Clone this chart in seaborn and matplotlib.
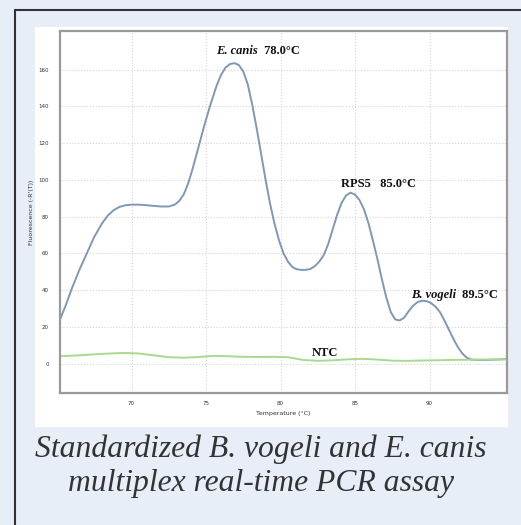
import numpy as np
import pandas as pd
import matplotlib
matplotlib.use('Agg')
import matplotlib.pyplot as plt
import seaborn as sns
from matplotlib.patches import Rectangle
from matplotlib.lines import Line2D

# melt curve
temp = [65.2, 65.6, 66.0, 66.5, 67.0, 67.5, 68.0, 68.4, 68.8, 69.2, 69.6, 70.0, 70.5, 71.0, 71.5,
        72.0, 72.5, 72.9, 73.2, 73.5, 73.8, 74.1, 74.5, 74.9, 75.3, 75.7, 76.0, 76.3, 76.6, 76.9,
        77.2, 77.5, 77.8, 78.1, 78.4, 78.7, 79.0, 79.3, 79.6, 79.9, 80.2, 80.5, 80.8, 81.1, 81.4,
        81.7, 82.0, 82.3, 82.6, 82.9, 83.2, 83.5, 83.8, 84.1, 84.4, 84.7, 85.0, 85.3, 85.6, 85.9,
        86.2, 86.5, 86.8, 87.1, 87.4, 87.7, 88.0, 88.3, 88.6, 88.9, 89.2, 89.5, 89.8, 90.1, 90.4,
        90.7, 91.0, 91.3, 91.6, 91.9, 92.2, 92.5, 92.8, 93.2, 93.8, 94.5, 95.2]
fluor = [24, 32, 41, 51, 60, 69, 76, 80.5, 83.5, 85.3, 86.2, 86.5, 86.5, 86.2, 85.8,
         85.5, 85.5, 86.5, 88.5, 92, 98, 106, 118, 130, 141, 151, 157, 161, 163, 163.5,
         162.5, 159, 152, 141, 128, 114, 100, 87, 76, 67, 60, 55.5, 52.5, 51.3, 51,
         51, 51.5, 53, 55.5, 59, 65, 73, 81, 87.5, 91.5, 93, 92, 89, 84, 76.5,
         67, 57, 46, 36, 28, 24, 23.5, 25, 28.5, 31.5, 33.5, 34.2, 34, 33, 31,
         28, 23.5, 18.5, 13.5, 9, 5.5, 3.2, 2.2, 2, 2, 2.2, 2.5]

ntc_temp = [65.2, 66.5, 68.0, 69.5, 70.5, 71.5, 72.5, 73.5, 74.5, 75.5, 76.5, 77.5, 78.5, 79.5,
            80.5, 81.5, 82.5, 83.5, 84.5, 85.5, 86.5, 87.5, 88.5, 89.5, 90.5, 91.5, 92.5, 93.5, 95.2]
ntc_fluor = [4, 4.5, 5.3, 5.8, 5.5, 4.5, 3.5, 3.2, 3.6, 4.2, 4, 3.7, 3.6, 3.7,
             3.5, 2, 1.5, 1.8, 2.3, 2.6, 2.2, 1.6, 1.5, 1.7, 1.8, 2, 2.1, 2.2, 2.3]

peak_labels = ['E. canis', 'RPS5', 'B. vogeli', 'NTC']
peak_temps = ['78.0°C', '85.0°C', '89.5°C', '']
label_x = [78.5, 86.6, 91.8, 83.0]
label_y = [170, 98, 37.5, 5.8]

x_ticks = [70, 75, 80, 85, 90]
y_ticks = [0, 20, 40, 60, 80, 100, 120, 140, 160]

df = pd.DataFrame({'temp': temp, 'fluor': fluor})
df_ntc = pd.DataFrame({'temp': ntc_temp, 'fluor': ntc_fluor})

sns.set_style('white')
W, H = 521, 525
fig = plt.figure(figsize=(W / 100, H / 100), dpi=100, facecolor='#e8eef8')

# white panel behind the plot
fig.patches.append(Rectangle((35 / W, 1 - 427 / H), (508 - 35) / W, (427 - 27) / H,
                             transform=fig.transFigure, facecolor='white', edgecolor='none', zorder=-5))
# outer frame (left and top only)
fig.lines.append(Line2D([15 / W, 15 / W], [0, 1 - 10 / H], transform=fig.transFigure, color='#333333', lw=1.5))
fig.lines.append(Line2D([15 / W, 1], [1 - 10 / H, 1 - 10 / H], transform=fig.transFigure, color='#333333', lw=1.5))

ax = fig.add_axes([60 / W, 1 - 393 / H, (507 - 60) / W, (393 - 31) / H])
ax.set_zorder(2)
ax.set_facecolor('white')
sns.lineplot(data=df, x='temp', y='fluor', ax=ax, color='#7f98b8', lw=1.4, sort=False)
sns.lineplot(data=df_ntc, x='temp', y='fluor', ax=ax, color='#a9d98e', lw=1.4, sort=False)

ax.set_xlim(65.2, 95.2)
ax.set_ylim(-16, 181)
ax.set_xticks(x_ticks)
ax.set_yticks(y_ticks)
ax.tick_params(axis='x', length=0, labelsize=4, labelcolor='#333333', pad=6)
ax.tick_params(axis='y', length=0, labelsize=4, labelcolor='#333333', pad=8)
ax.grid(True, color='#d4d4d4', ls=':', lw=0.8)
for s in ax.spines.values():
    s.set_color('#9a9a9a')
    s.set_linewidth(1.6)
ax.set_xlabel('Temperature (°C)', fontsize=4.5, color='#333333', labelpad=3)
ax.set_ylabel("Fluorescence (-R'(T))", fontsize=4.5, color='#333333', labelpad=3)

serif = ['Liberation Serif', 'DejaVu Serif']
for name, t, x, y in zip(peak_labels, peak_temps, label_x, label_y):
    if name in ('E. canis', 'B. vogeli'):
        ax.text(x, y, name, ha='right', va='center', fontsize=9, fontweight='bold', fontstyle='italic',
                family=serif, color='#111111')
        ax.text(x + 0.2, y, ' ' + t, ha='left', va='center', fontsize=9, fontweight='bold',
                family=serif, color='#111111')
    elif name == 'RPS5':
        ax.text(x, y, name + '   ' + t, ha='center', va='center', fontsize=9, fontweight='bold',
                family=serif, color='#111111')
    else:
        ax.text(x, y, name, ha='center', va='center', fontsize=9, fontweight='bold',
                family=serif, color='#111111')

fig.text(0.5, 1 - 449 / H, 'Standardized B. vogeli and E. canis', ha='center', va='center',
         fontsize=22.8, fontstyle='italic', family=serif, color='#333333')
fig.text(0.5, 1 - 483 / H, 'multiplex real-time PCR assay', ha='center', va='center',
         fontsize=22.8, fontstyle='italic', family=serif, color='#333333')

fig.savefig('out.png', dpi=100, facecolor=fig.get_facecolor())
